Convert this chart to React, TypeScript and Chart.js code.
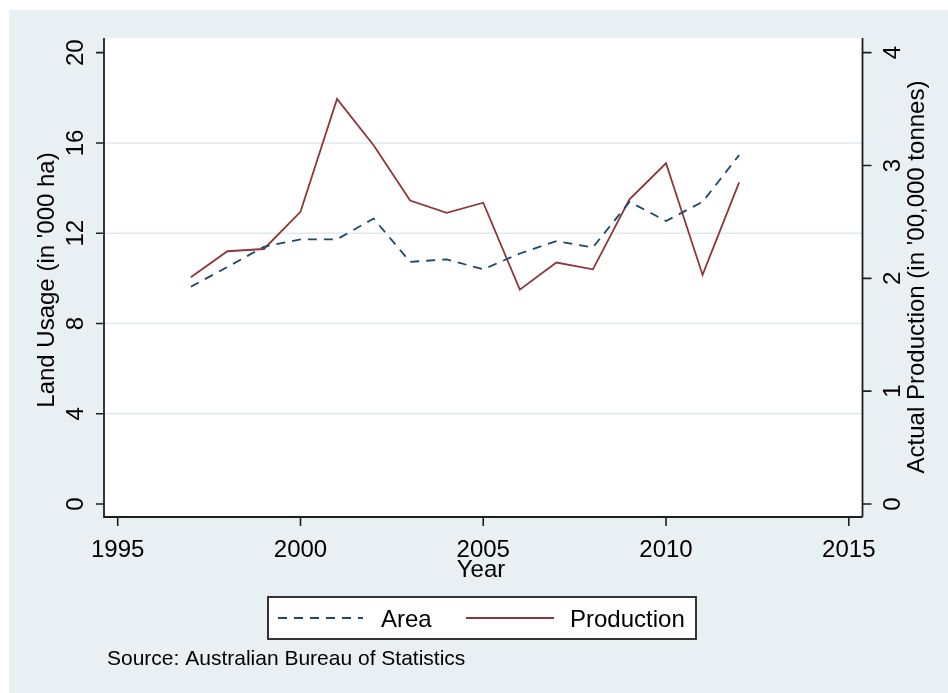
import React, { useEffect, useRef } from "react";
import { Chart, registerables } from "chart.js";

Chart.register(...registerables);

// ---- Data ----
const years = [1997, 1998, 1999, 2000, 2001, 2002, 2003, 2004, 2005, 2006, 2007, 2008, 2009, 2010, 2011, 2012];
const areaValues = [9.63, 10.5, 11.4, 11.73, 11.73, 12.65, 10.73, 10.84, 10.4, 11.1, 11.65, 11.37, 13.39, 12.54, 13.39, 15.46];
const productionValues = [2.01, 2.24, 2.26, 2.59, 3.59, 3.18, 2.69, 2.58, 2.67, 1.9, 2.14, 2.08, 2.7, 3.02, 2.03, 2.85];

const xTicks = [1995, 2000, 2005, 2010, 2015];
const leftTicks = [0, 4, 8, 12, 16, 20];
const rightTicks = [0, 1, 2, 3, 4];
const gridValues = [4, 8, 12, 16];

const seriesLabels = ["Area", "Production"];
const xTitle = "Year";
const leftTitle = "Land Usage (in '000 ha)";
const rightTitle = "Actual Production (in '00,000 tonnes)";
const sourceNote = "Source: Australian Bureau of Statistics";

// ---- Styles ----
const FONT = '"Liberation Sans", Arial, sans-serif';
const BG = "rgb(232,240,243)";
const GRID = "rgb(224,233,238)";
const AXIS = "rgb(30,30,30)";
const NAVY = "rgb(26,71,111)";
const MAROON = "rgb(144,53,59)";
const TEXT = "rgb(0,0,0)";

const stataPlugin = {
  id: "stataLook",
  beforeDraw(chart: any) {
    const { ctx, chartArea: a, width, height } = chart;
    ctx.save();
    ctx.fillStyle = "#ffffff";
    ctx.fillRect(0, 0, width, height);
    ctx.fillStyle = BG;
    ctx.fillRect(9, 10, width - 9, height - 10);
    ctx.fillStyle = "#ffffff";
    ctx.fillRect(a.left, a.top, a.right - a.left, a.bottom - a.top);
    const y = chart.scales.y;
    ctx.strokeStyle = GRID;
    ctx.lineWidth = 1.5;
    gridValues.forEach((v) => {
      const py = y.getPixelForValue(v);
      ctx.beginPath();
      ctx.moveTo(a.left, py);
      ctx.lineTo(a.right, py);
      ctx.stroke();
    });
    ctx.restore();
  },
  afterDraw(chart: any) {
    const { ctx, chartArea: a } = chart;
    const x = chart.scales.x;
    const y = chart.scales.y;
    const y2 = chart.scales.y2;
    ctx.save();

    // axis lines
    ctx.strokeStyle = AXIS;
    ctx.lineWidth = 1.8;
    ctx.beginPath();
    ctx.moveTo(a.left, a.top);
    ctx.lineTo(a.left, a.bottom);
    ctx.lineTo(a.right, a.bottom);
    ctx.moveTo(a.right, a.top);
    ctx.lineTo(a.right, a.bottom);
    ctx.stroke();

    // tick marks
    ctx.lineWidth = 1.6;
    ctx.beginPath();
    leftTicks.forEach((v) => {
      const py = y.getPixelForValue(v);
      ctx.moveTo(a.left - 8, py);
      ctx.lineTo(a.left, py);
    });
    rightTicks.forEach((v) => {
      const py = y2.getPixelForValue(v);
      ctx.moveTo(a.right, py);
      ctx.lineTo(a.right + 9, py);
    });
    xTicks.forEach((v) => {
      const px = x.getPixelForValue(v);
      ctx.moveTo(px, a.bottom);
      ctx.lineTo(px, a.bottom + 9);
    });
    ctx.stroke();

    ctx.fillStyle = TEXT;
    ctx.font = `24px ${FONT}`;

    // x tick labels
    ctx.textAlign = "center";
    ctx.textBaseline = "alphabetic";
    xTicks.forEach((v) => {
      ctx.fillText(String(v), x.getPixelForValue(v), 557);
    });
    // x title
    ctx.fillText(xTitle, 481, 577);

    // left tick labels (rotated)
    leftTicks.forEach((v) => {
      ctx.save();
      ctx.translate(83, y.getPixelForValue(v));
      ctx.rotate(-Math.PI / 2);
      ctx.fillText(String(v), 0, 0);
      ctx.restore();
    });
    // right tick labels (rotated)
    rightTicks.forEach((v) => {
      ctx.save();
      ctx.translate(900, y2.getPixelForValue(v));
      ctx.rotate(-Math.PI / 2);
      ctx.fillText(String(v), 0, 0);
      ctx.restore();
    });

    // left title
    ctx.save();
    ctx.translate(54, 280);
    ctx.rotate(-Math.PI / 2);
    ctx.fillText(leftTitle, 0, 0);
    ctx.restore();

    // right title
    ctx.save();
    ctx.translate(924, 277);
    ctx.rotate(-Math.PI / 2);
    ctx.fillText(rightTitle, 0, 0);
    ctx.restore();

    // legend
    ctx.fillStyle = "#ffffff";
    ctx.fillRect(268, 597, 428, 42);
    ctx.strokeStyle = AXIS;
    ctx.lineWidth = 1.8;
    ctx.strokeRect(268, 597, 428, 42);
    const ds = chart.data.datasets;
    ctx.lineWidth = 1.8;
    ctx.strokeStyle = ds[0].borderColor;
    ctx.setLineDash(ds[0].borderDash);
    ctx.beginPath();
    ctx.moveTo(278, 618);
    ctx.lineTo(363, 618);
    ctx.stroke();
    ctx.setLineDash([]);
    ctx.strokeStyle = ds[1].borderColor;
    ctx.beginPath();
    ctx.moveTo(466, 618);
    ctx.lineTo(554, 618);
    ctx.stroke();
    ctx.fillStyle = TEXT;
    ctx.textAlign = "left";
    ctx.font = `24px ${FONT}`;
    ctx.fillText(ds[0].label, 381, 627);
    ctx.fillText(ds[1].label, 570, 627);

    // source note
    ctx.font = `21px ${FONT}`;
    ctx.fillText(sourceNote, 107, 665);

    ctx.restore();
  },
};

export default function App() {
  const canvasRef = useRef<HTMLCanvasElement | null>(null);

  useEffect(() => {
    const canvas = canvasRef.current;
    if (!canvas) return;
    const chart = new Chart(canvas, {
      type: "line",
      data: {
        datasets: [
          {
            label: seriesLabels[0],
            data: years.map((yr, i) => ({ x: yr, y: areaValues[i] })),
            yAxisID: "y",
            borderColor: NAVY,
            borderWidth: 1.8,
            borderDash: [9, 7],
            pointRadius: 0,
            tension: 0,
            fill: false,
          },
          {
            label: seriesLabels[1],
            data: years.map((yr, i) => ({ x: yr, y: productionValues[i] })),
            yAxisID: "y2",
            borderColor: MAROON,
            borderWidth: 1.8,
            pointRadius: 0,
            tension: 0,
            fill: false,
          },
        ],
      },
      options: {
        responsive: false,
        animation: false,
        devicePixelRatio: 1,
        layout: { padding: { left: 104, top: 38, right: 85.5, bottom: 176 } },
        plugins: {
          legend: { display: false },
          title: { display: false },
          tooltip: { enabled: false },
        },
        scales: {
          x: { type: "linear", min: 1994.625, max: 2015.375, display: false },
          y: { type: "linear", min: -0.576, max: 20.65, display: false },
          y2: { type: "linear", min: -0.1152, max: 4.13, display: false, position: "right" },
        },
      },
      plugins: [stataPlugin],
    });
    return () => chart.destroy();
  }, []);

  return (
    <canvas
      ref={canvasRef}
      width={948}
      height={693}
      style={{ position: "fixed", left: 0, top: 0, width: 948, height: 693 }}
    />
  );
}
